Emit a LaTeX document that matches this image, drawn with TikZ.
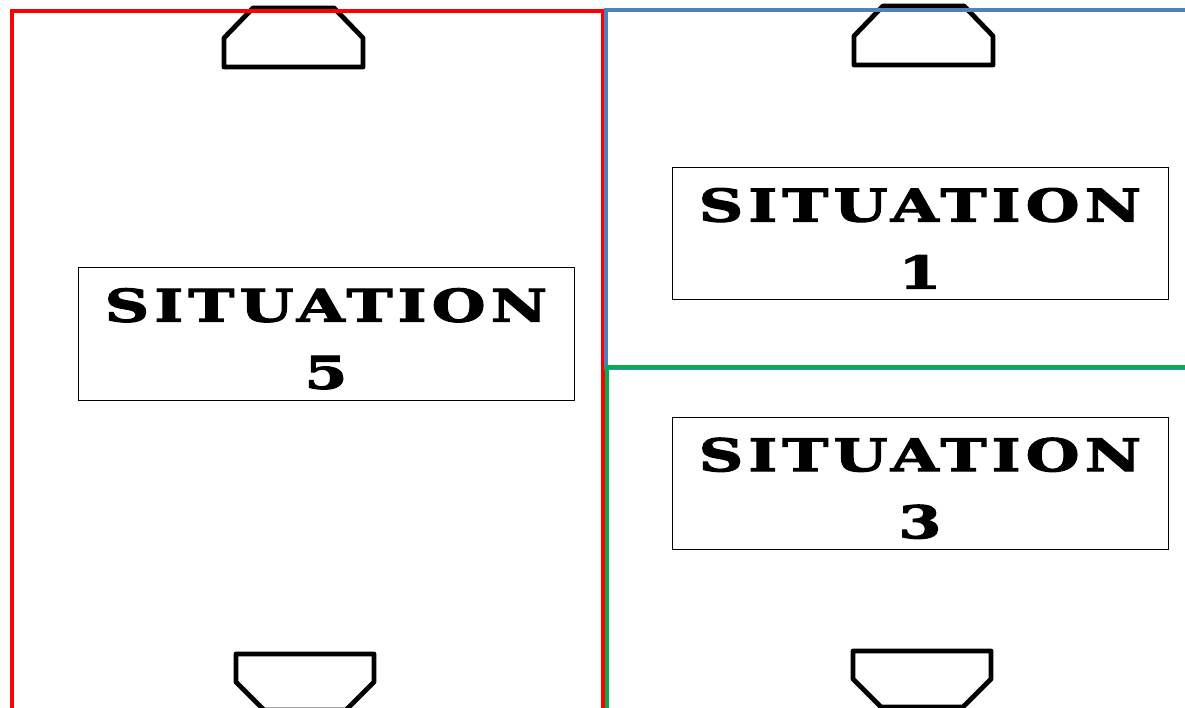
\documentclass[tikz,border=0pt]{standalone}
\usepackage{fontspec}
\usepackage{tikz}
\usetikzlibrary{positioning}
\newfontfamily\sitfont[FakeStretch=1.38,LetterSpace=11,FakeBold=2.5]{DejaVu Serif}
\definecolor{framered}{HTML}{FF0000}
\definecolor{frameblue}{HTML}{4F81BD}
\definecolor{framegreen}{HTML}{00B050}
\tikzset{
  frame/.style={line width=4pt},
  goal/.style={draw=black, line width=4.8pt, line join=round},
  sitbox/.style={draw=black, line width=1pt, minimum width=496pt, minimum height=132pt,
                 align=center, inner sep=0pt, font={\sitfont\bfseries\fontsize{45}{67}\selectfont}},
}
\newcommand{\sitstrut}{\rule{0pt}{43pt}}

\begin{document}
\begin{tikzpicture}[x=1pt, y=-1pt]
  \clip (0,0) rectangle (1185,708);
  \fill[white] (0,0) rectangle (1185,708);
  % goals at the top and at the bottom
  \foreach \gx/\gy in {224/67, 854/65} {
    \draw[goal] (\gx,\gy) -- ++(0,-29) -- ++(29,-30) -- ++(81,0) -- ++(29,30) -- ++(0,29) -- cycle;
  }
  \foreach \gx/\gy in {236/654, 853/651} {
    \draw[goal] (\gx,\gy) -- ++(0,28) -- ++(28,28) -- ++(82,0) -- ++(28,-28) -- ++(0,-28) -- cycle;
  }
  % zones
  \draw[frame, framered] (12,11) rectangle (603,730);
  \draw[frame, frameblue] (1200,10) -- (606,10) -- (606,368) -- (1200,368);
  \draw[frame, framegreen] (1200,367) -- (607,367) -- (607,730);
  % labels
  \node[sitbox] (sit5) at (326,334) {\sitstrut SITUATION\\5};
  \node[sitbox] (sit1) at (920,233.5) {\sitstrut SITUATION\\1};
  \node[sitbox] (sit3) at (920,483.5) {\sitstrut SITUATION\\3};
\end{tikzpicture}
\end{document}
